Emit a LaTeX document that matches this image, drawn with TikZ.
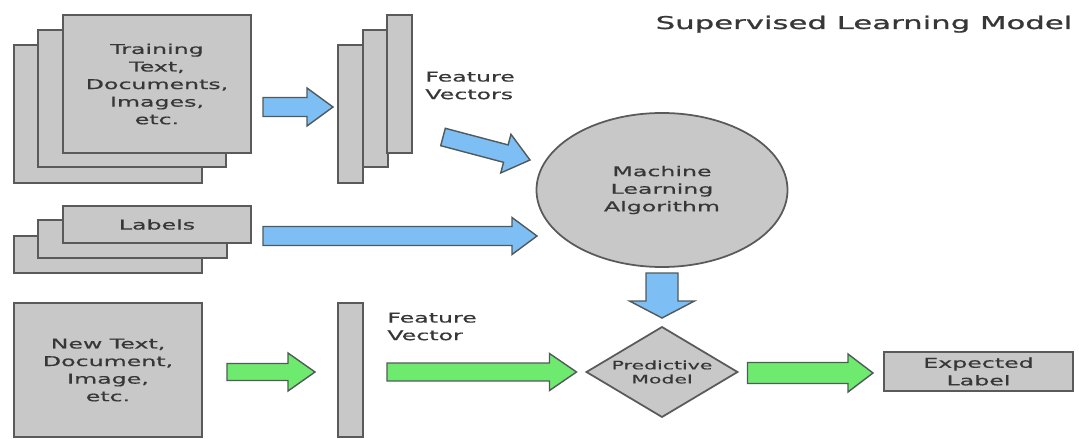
\documentclass[tikz,border=0pt]{standalone}
\usepackage{fontspec}
\newfontfamily\dfont[FakeStretch=1.75,FakeBold=0.6]{DejaVu Sans}
\newfontfamily\tfont[FakeStretch=1.75,FakeBold=1.2]{DejaVu Sans}
\usetikzlibrary{shapes.geometric,calc}
\definecolor{boxfill}{RGB}{200,200,200}
\definecolor{boxline}{RGB}{90,90,90}
\definecolor{txt}{RGB}{55,55,55}
\definecolor{bluef}{RGB}{125,190,245}
\definecolor{greenf}{RGB}{110,235,110}
\definecolor{arrline}{RGB}{80,90,90}
\begin{document}
\begin{tikzpicture}[x=0.02cm,y=-0.02cm,
 box/.style={draw=boxline,fill=boxfill,line width=1pt,inner sep=0pt,outer sep=0pt},
 sz/.style n args={2}{minimum width=#1*0.02cm,minimum height=#2*0.02cm},
 lbl/.style={font=\dfont\fontsize{7.7}{10}\selectfont,text=txt,align=center,inner sep=0pt},
 fat/.style n args={3}{to path={
   ($(\tikztostart)!#1!90:(\tikztotarget)$)
   -- ($(\tikztotarget)!#3!(\tikztostart)!#1!90:(\tikztotarget)$)
   -- ($(\tikztotarget)!#3!(\tikztostart)!#2!90:(\tikztotarget)$)
   -- (\tikztotarget)
   -- ($(\tikztotarget)!#3!(\tikztostart)!#2!-90:(\tikztotarget)$)
   -- ($(\tikztotarget)!#3!(\tikztostart)!#1!-90:(\tikztotarget)$)
   -- ($(\tikztostart)!#1!-90:(\tikztotarget)$)
   -- cycle}},
 barrow/.style={draw=arrline,fill=bluef,line width=0.8pt},
 garrow/.style={draw=arrline,fill=greenf,line width=0.8pt}]
\useasboundingbox (0,0) rectangle (1079,439);
% title
\node[lbl,font=\tfont\fontsize{10}{12}\selectfont,anchor=base] (title) at (864,29) {Supervised Learning Model};
% training documents
\node[box,sz={188}{138}] (trB) at (108,114) {};
\node[box,sz={188}{137}] (trM) at (132,98.5) {};
\node[box,sz={188}{138},lbl] (trF) at (157,84) {Training\\Text,\\Documents,\\Images,\\etc.};
% feature vectors
\node[box,sz={25}{138}] (vB) at (350.5,114) {};
\node[box,sz={25}{137}] (vM) at (375.5,98.5) {};
\node[box,sz={25}{138}] (vF) at (399.5,84) {};
\node[lbl,anchor=west,align=left] (fvs) at ($(vF.east)+(13,1.5)$) {Feature\\Vectors};
% labels
\node[box,sz={188}{37}] (lbB) at (108,254.5) {};
\node[box,sz={189}{38}] (lbM) at (132.5,239) {};
\node[box,sz={188}{37},lbl] (lbF) at (157,224.5) {Labels};
% machine learning algorithm
\node[box,ellipse,sz={251}{154},lbl] (ml) at (662,190) {Machine\\Learning\\Algorithm};
% new data
\node[box,sz={188}{134},lbl] (nt) at (108,370) {New Text,\\Document,\\Image,\\etc.};
\node[box,sz={25}{134}] (fv) at (350.5,370) {};
\node[lbl,anchor=west,align=left] (fvl) at ($(fv.north east)+(24,23.5)$) {Feature\\Vector};
% predictive model
\node[box,diamond,sz={151}{90}] (pm) at (662,372) {};
\node[lbl,font=\dfont\fontsize{6.65}{8}\selectfont] (pmt) at (pm.center) {Predictive\\Model};
% expected label
\node[box,sz={189}{39},lbl] (el) at (978.5,371.5) {Expected\\Label};
% arrow ends
\coordinate (a1s) at ($(trF.east)+(12,23)$);
\coordinate (a1e) at ($(vB.west)+(-5,-7)$);
\coordinate (a2s) at ($(vF.east)+(31,53)$);
\coordinate (a2e) at ($(ml.center)+(-132,-30)$);
\coordinate (a3s) at ($(lbF.east)+(12,11.5)$);
\coordinate (a3e) at ($(ml.west)+(0.5,46)$);
\coordinate (a4s) at ($(ml.south)+(0,6)$);
\coordinate (a4e) at ($(pm.north)+(0,-9)$);
\coordinate (g1s) at ($(nt.east)+(25,2)$);
\coordinate (g1e) at ($(fv.west)+(-23,2)$);
\coordinate (g2s) at ($(fv.east)+(24,2)$);
\coordinate (g2e) at ($(pm.west)+(-10,0)$);
\coordinate (g3s) at ($(pm.east)+(10,1)$);
\coordinate (g3e) at ($(el.west)+(-11,1.5)$);
% arrows
\draw[barrow,fat={0.19cm}{0.38cm}{0.52cm}] (a1s) to (a1e);
\draw[barrow,fat={0.18cm}{0.40cm}{0.50cm}] (a2s) to (a2e);
\draw[barrow,fat={0.19cm}{0.37cm}{0.50cm}] (a3s) to (a3e);
\draw[barrow,fat={0.32cm}{0.65cm}{0.34cm}] (a4s) to (a4e);
\draw[garrow,fat={0.17cm}{0.38cm}{0.54cm}] (g1s) to (g1e);
\draw[garrow,fat={0.18cm}{0.37cm}{0.54cm}] (g2s) to (g2e);
\draw[garrow,fat={0.21cm}{0.38cm}{0.50cm}] (g3s) to (g3e);
\end{tikzpicture}
\end{document}
